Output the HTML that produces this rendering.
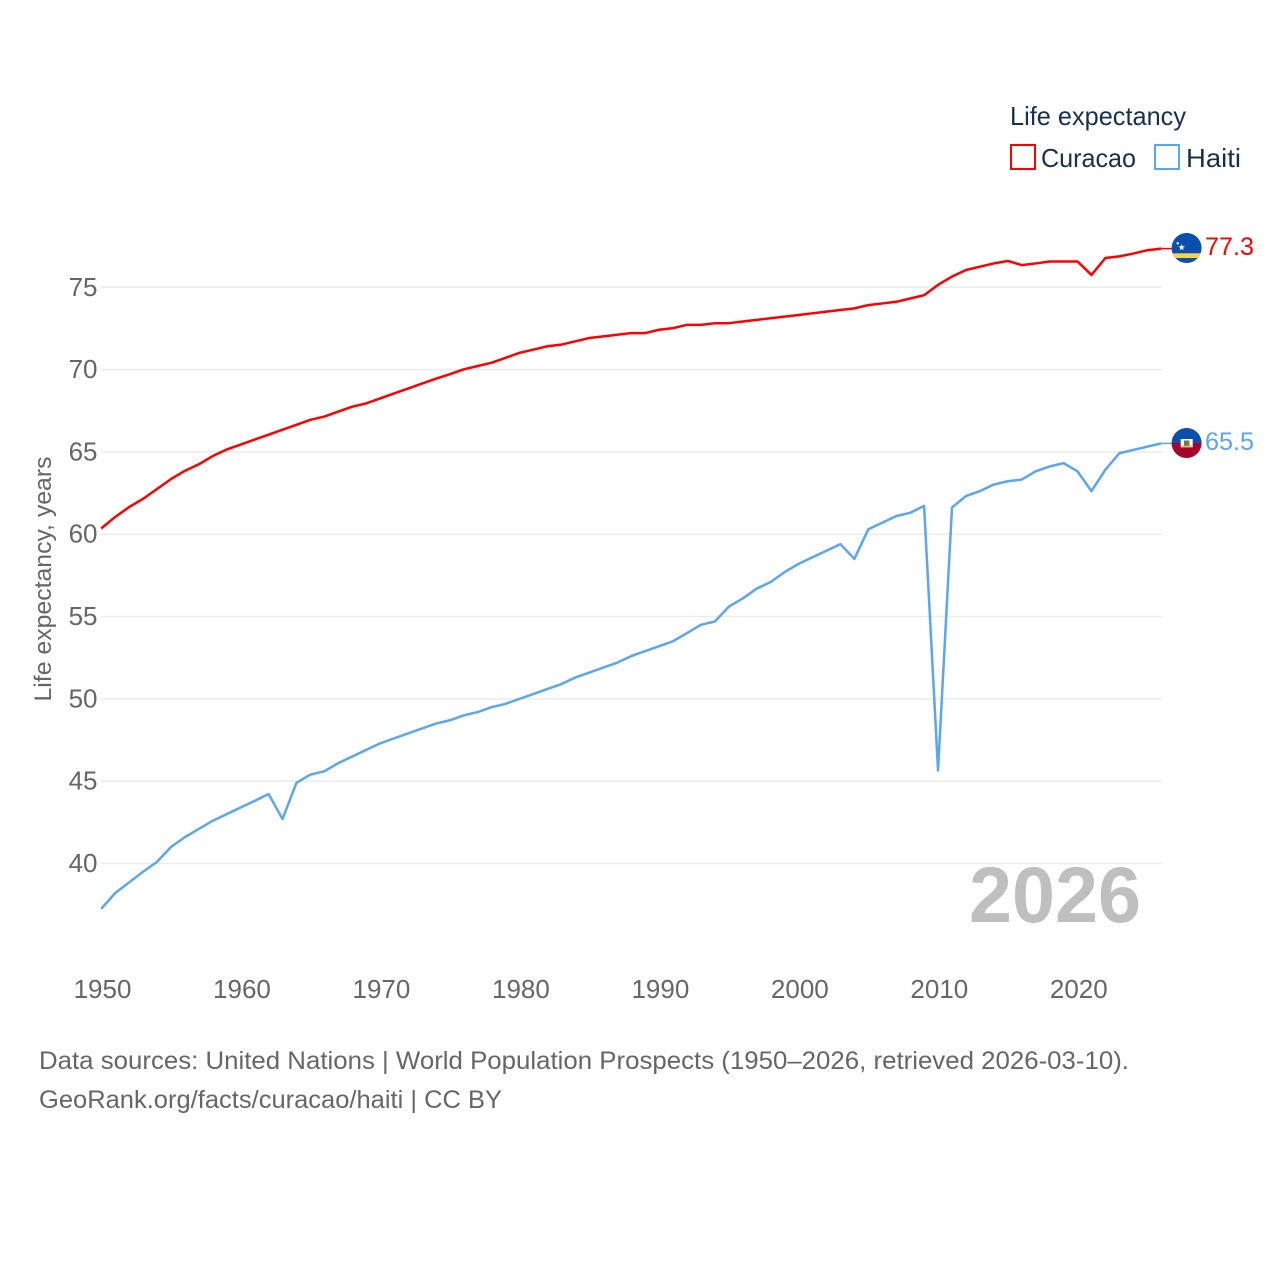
<!DOCTYPE html>
<html><head><meta charset="utf-8"><title>Life expectancy: Curacao vs Haiti</title>
<style>
html,body{margin:0;padding:0;background:#fff;width:1280px;height:1280px;overflow:hidden}
svg{display:block}
text{font-family:"Liberation Sans",sans-serif}
</style></head>
<body>
<svg id="chart" width="1280" height="1280" viewBox="0 0 1280 1280" xmlns="http://www.w3.org/2000/svg">
<defs>
<clipPath id="flag-clip-a"><circle cx="1186.6" cy="248" r="15"/></clipPath>
<clipPath id="flag-clip-b"><circle cx="1186.6" cy="443" r="15"/></clipPath>
</defs>
<g id="grid"></g>
<text x="1141" y="922" text-anchor="end" font-size="79" font-weight="bold" fill="#bfbfbf" textLength="172" lengthAdjust="spacingAndGlyphs">2026</text>
<g id="yticks"></g>
<g id="xticks"></g>
<text transform="translate(51,579) rotate(-90)" text-anchor="middle" font-size="24" fill="#666" textLength="245" lengthAdjust="spacingAndGlyphs">Life expectancy, years</text>
<g id="series"></g>

<g clip-path="url(#flag-clip-a)">
<rect x="1171" y="233" width="31" height="30" fill="#0a4fae"/>
<rect x="1171" y="253.3" width="31" height="4.7" fill="#f9d348"/>
<polygon points="1181.7,244 1182.5,246.3 1184.9,246.4 1183,247.9 1183.700,250.2 1181.7,248.9 1179.700,250.2 1180.400,247.9 1178.500,246.400 1180.900,246.300" fill="#fff"/>
<circle cx="1177.7" cy="243.300" r="1.200" fill="#fff"/>
</g>
<g clip-path="url(#flag-clip-b)">
<rect x="1171" y="428" width="31" height="15" fill="#0a4fae"/>
<rect x="1171" y="443" width="31" height="15" fill="#a8042a"/>
<rect x="1180.700" y="439" width="12" height="8.300" fill="#fff"/>
<rect x="1184" y="440.500" width="5.400" height="5.500" fill="#6f7d3a"/>
<rect x="1182.500" y="445.500" width="8.400" height="1.200" fill="#c9a83a"/>
</g>

<text x="1205" y="255" font-size="25" fill="#ff0000" textLength="49" lengthAdjust="spacingAndGlyphs">77.3</text>
<text x="1205" y="450" font-size="25" fill="#5ba6ee" textLength="49" lengthAdjust="spacingAndGlyphs">65.5</text>

<g>
<text x="1010" y="125" font-size="26" fill="#17304f" textLength="176" lengthAdjust="spacingAndGlyphs">Life expectancy</text>
<rect x="1011" y="145" width="24" height="24" fill="none" stroke="#ff0000" stroke-width="2"/>
<text x="1041" y="167" font-size="26" fill="#17304f" textLength="95" lengthAdjust="spacingAndGlyphs">Curacao</text>
<rect x="1155" y="145" width="24" height="24" fill="none" stroke="#5ba6ee" stroke-width="2"/>
<text x="1186" y="167" font-size="26" fill="#17304f" textLength="55" lengthAdjust="spacingAndGlyphs">Haiti</text>
</g>

<text x="39" y="1069" font-size="25" fill="#666" textLength="1090" lengthAdjust="spacingAndGlyphs">Data sources: United Nations | World Population Prospects (1950–2026, retrieved 2026-03-10).</text>
<text x="39" y="1108" font-size="25" fill="#666" textLength="463" lengthAdjust="spacingAndGlyphs">GeoRank.org/facts/curacao/haiti | CC BY</text>
</svg>
<script>
const startYear = 1950;
const curacaoValues = [60.35,61.05,61.65,62.15,62.75,63.35,63.85,64.25,64.75,65.15,
65.45,65.75,66.05,66.35,66.65,66.95,67.15,67.45,67.75,67.95,
68.25,68.55,68.85,69.15,69.45,69.72,70.02,70.22,70.42,70.72,
71.02,71.22,71.42,71.52,71.72,71.92,72.02,72.12,72.22,72.22,
72.42,72.52,72.72,72.72,72.82,72.82,72.92,73.02,73.12,73.22,
73.32,73.42,73.52,73.62,73.72,73.92,74.02,74.12,74.32,74.52,
75.15,75.65,76.05,76.25,76.45,76.6,76.35,76.45,76.57,76.57,
76.57,75.75,76.78,76.88,77.05,77.25,77.35];
const haitiValues = [37.25,38.2,38.85,39.5,40.1,41.0,41.6,42.1,42.6,43.0,
43.4,43.8,44.22,42.7,44.9,45.4,45.6,46.1,46.5,46.9,
47.3,47.6,47.9,48.2,48.5,48.7,49.0,49.2,49.5,49.7,
50.0,50.3,50.6,50.9,51.3,51.6,51.9,52.2,52.6,52.9,
53.2,53.5,54.0,54.5,54.7,55.6,56.1,56.7,57.1,57.7,
58.2,58.6,59.0,59.4,58.5,60.3,60.7,61.1,61.3,61.72,
45.65,61.62,62.32,62.62,63.02,63.22,63.32,63.82,64.12,64.32,
63.82,62.62,63.92,64.92,65.12,65.32,65.52];
const yTickValues = [40,45,50,55,60,65,70,75];
const xTickValues = [1950,1960,1970,1980,1990,2000,2010,2020];

const NS = 'http://www.w3.org/2000/svg';
function xScale(year){ return 101.2 + (year - 1950) * (1077.5 - 101.2) / 70; }
function yScale(v){ return 863.5 - (v - 40) * (863.5 - 287.3) / 35; }

const gridG = document.getElementById('grid');
const yG = document.getElementById('yticks');
const xG = document.getElementById('xticks');
const seriesG = document.getElementById('series');

yTickValues.forEach(function(v){
  const line = document.createElementNS(NS,'line');
  
  
  line.setAttribute('x1', 101);
  line.setAttribute('x2', 1162);
  line.setAttribute('y1', yScale(v));
  line.setAttribute('y2', yScale(v));
  line.setAttribute('stroke', '#ececec');
  line.setAttribute('stroke-width', '1.5');
  gridG.appendChild(line);

  const t = document.createElementNS(NS,'text');
  
  
  t.setAttribute('x', 97.5);
  t.setAttribute('y', yScale(v) + 8.5);
  t.setAttribute('text-anchor', 'end');
  t.setAttribute('font-size', '26');
  t.setAttribute('fill', '#666');
  t.textContent = v;
  yG.appendChild(t);
});

xTickValues.forEach(function(y){
  const t = document.createElementNS(NS,'text');
  
  
  t.setAttribute('x', xScale(y) + 1.3);
  t.setAttribute('y', 998);
  t.setAttribute('text-anchor', 'middle');
  t.setAttribute('font-size', '26');
  t.setAttribute('fill', '#666');
  t.textContent = y;
  xG.appendChild(t);
});

function linePoints(values){
  return values.map(function(v, i){
    return xScale(startYear + i).toFixed(2) + ',' + yScale(v).toFixed(2);
  }).join(' ');
}
function endConnector(values, name, color){
  const last = values[values.length - 1];
  const c = document.createElementNS(NS,'line');
  
  
  c.setAttribute('x1', xScale(startYear + values.length - 1));
  c.setAttribute('x2', 1172);
  c.setAttribute('y1', yScale(last));
  c.setAttribute('y2', yScale(last));
  c.setAttribute('stroke', color);
  c.setAttribute('stroke-width', '1.500');
  seriesG.appendChild(c);
}

const curacaoLine = document.createElementNS(NS,'polyline');


curacaoLine.setAttribute('points', linePoints(curacaoValues));
curacaoLine.setAttribute('fill', 'none');
curacaoLine.setAttribute('stroke', '#ff0000');
curacaoLine.setAttribute('stroke-width', '2.500');
curacaoLine.setAttribute('stroke-linejoin', 'round');
seriesG.appendChild(curacaoLine);

const haitiLine = document.createElementNS(NS,'polyline');


haitiLine.setAttribute('points', linePoints(haitiValues));
haitiLine.setAttribute('fill', 'none');
haitiLine.setAttribute('stroke', '#5ba6ee');
haitiLine.setAttribute('stroke-width', '2.500');
haitiLine.setAttribute('stroke-linejoin', 'round');
seriesG.appendChild(haitiLine);

endConnector(curacaoValues, 'curacao-end-connector', '#ff0000');
endConnector(haitiValues, 'haiti-end-connector', '#5ba6ee');
</script>
</body></html>
